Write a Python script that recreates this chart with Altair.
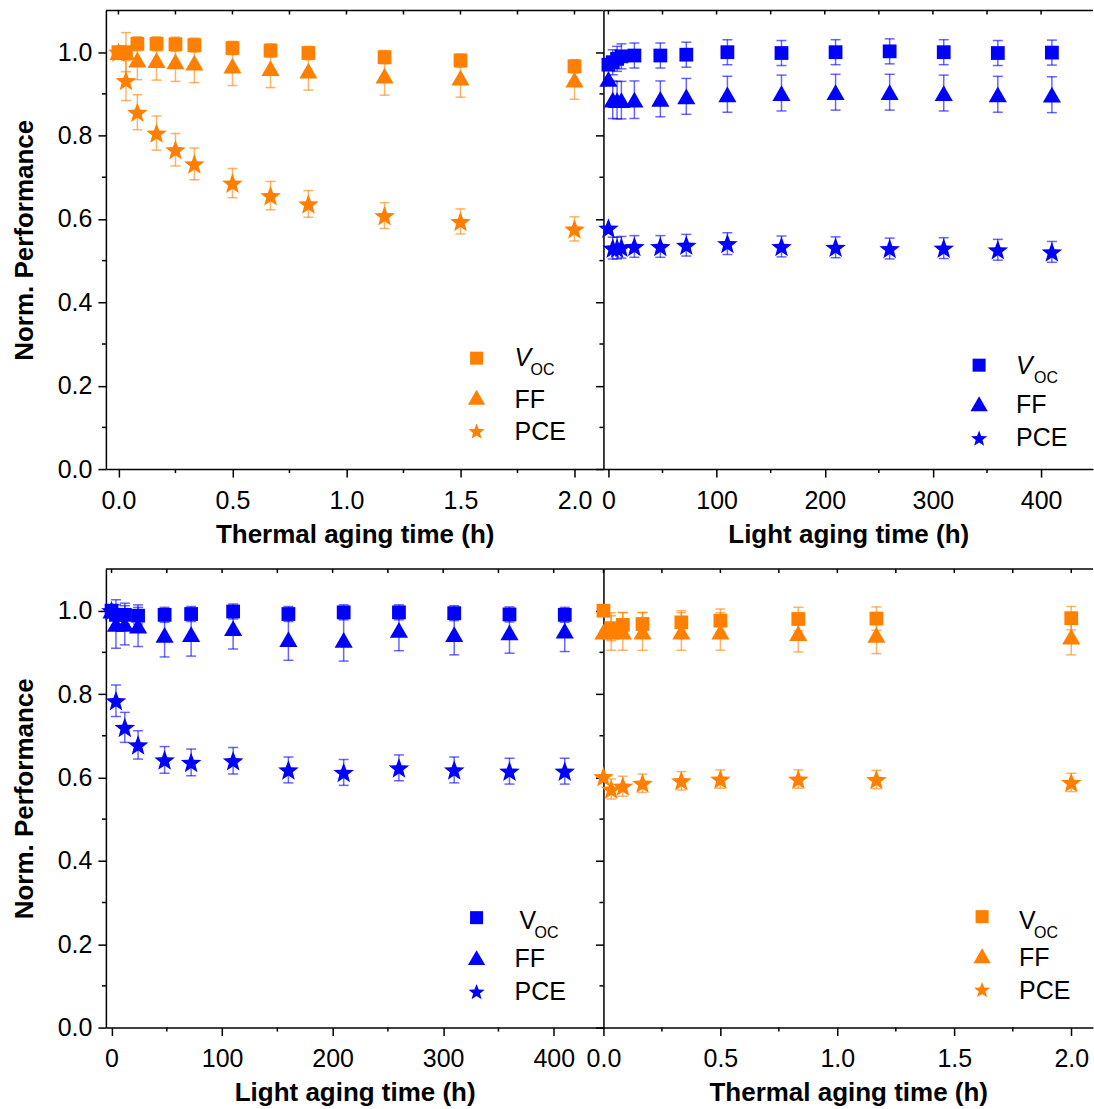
import altair as alt
import pandas as pd

ORANGE = "#FF8000"
BLUE = "#0000FF"
FONT = "Liberation Sans"

# ---------------- data ----------------
# top-left: thermal aging
th1_time = [0, 0.033, 0.083, 0.167, 0.25, 0.333, 0.5, 0.667, 0.833, 1.167, 1.5, 2.0]
th1_voc = [1.0, 1.0, 1.02, 1.02, 1.019, 1.017, 1.01, 1.004, 0.998, 0.988, 0.98, 0.966]
th1_voc_err = [0, 0.012, 0.017, 0.017, 0.017, 0.017, 0.016, 0.016, 0.016, 0.016, 0.016, 0.016]
th1_ff = [1.0, 1.0, 0.982, 0.981, 0.978, 0.975, 0.968, 0.962, 0.956, 0.944, 0.939, 0.934]
th1_ff_err = [0, 0.047, 0.048, 0.048, 0.048, 0.048, 0.048, 0.047, 0.047, 0.047, 0.047, 0.047]
th1_pce = [1.0, 0.932, 0.856, 0.806, 0.766, 0.732, 0.686, 0.656, 0.636, 0.608, 0.594, 0.576]
th1_pce_err = [0, 0.048, 0.042, 0.041, 0.039, 0.038, 0.035, 0.034, 0.032, 0.031, 0.030, 0.029]

# top-right: light aging
li1_time = [0, 4, 8, 12, 24, 48, 72, 110, 160, 210, 260, 310, 360, 410]
li1_voc = [0.970, 0.976, 0.984, 0.990, 0.992, 0.992, 0.994, 1.000, 0.998, 1.000, 1.002, 1.000, 0.998, 0.999]
li1_voc_err = [0, 0.03, 0.03, 0.03, 0.03, 0.03, 0.03, 0.03, 0.03, 0.03, 0.03, 0.03, 0.03, 0.03]
li1_ff = [0.936, 0.886, 0.885, 0.885, 0.886, 0.888, 0.894, 0.899, 0.902, 0.904, 0.904, 0.902, 0.899, 0.898]
li1_ff_err = [0, 0.045, 0.045, 0.045, 0.045, 0.043, 0.043, 0.043, 0.043, 0.043, 0.043, 0.043, 0.043, 0.043]
li1_pce = [0.578, 0.530, 0.530, 0.532, 0.534, 0.534, 0.537, 0.541, 0.534, 0.532, 0.529, 0.530, 0.526, 0.521]
li1_pce_err = [0, 0.026, 0.026, 0.026, 0.026, 0.026, 0.026, 0.026, 0.025, 0.025, 0.025, 0.025, 0.025, 0.025]

# bottom-left: light aging
li2_time = [0, 4, 12, 24, 48, 72, 110, 160, 210, 260, 310, 360, 410]
li2_voc = [1.0, 0.99, 0.99, 0.988, 0.990, 0.992, 0.998, 0.992, 0.996, 0.996, 0.994, 0.991, 0.990]
li2_voc_err = [0, 0.024, 0.022, 0.02, 0.018, 0.018, 0.018, 0.018, 0.018, 0.018, 0.018, 0.018, 0.018]
li2_ff = [1.0, 0.968, 0.968, 0.964, 0.942, 0.944, 0.958, 0.932, 0.930, 0.954, 0.944, 0.948, 0.952]
li2_ff_err = [0, 0.058, 0.05, 0.05, 0.053, 0.053, 0.05, 0.051, 0.051, 0.05, 0.05, 0.05, 0.05]
li2_pce = [1.0, 0.784, 0.720, 0.678, 0.642, 0.636, 0.640, 0.618, 0.612, 0.623, 0.618, 0.615, 0.615]
li2_pce_err = [0, 0.038, 0.036, 0.034, 0.032, 0.032, 0.032, 0.031, 0.031, 0.031, 0.031, 0.031, 0.031]

# bottom-right: thermal aging
th2_time = [0, 0.033, 0.083, 0.167, 0.333, 0.5, 0.833, 1.167, 2.0]
th2_voc = [1.0, 0.958, 0.966, 0.968, 0.972, 0.976, 0.980, 0.981, 0.982]
th2_voc_err = [0, 0.03, 0.03, 0.028, 0.028, 0.028, 0.028, 0.028, 0.028]
th2_ff = [0.950, 0.950, 0.950, 0.950, 0.950, 0.950, 0.946, 0.942, 0.938]
th2_ff_err = [0, 0.045, 0.045, 0.045, 0.045, 0.045, 0.045, 0.045, 0.044]
th2_pce = [0.602, 0.572, 0.579, 0.586, 0.592, 0.596, 0.596, 0.595, 0.588]
th2_pce_err = [0, 0.024, 0.024, 0.022, 0.022, 0.022, 0.022, 0.022, 0.022]

thermal_major = [0, 0.5, 1.0, 1.5, 2.0]
thermal_minor = [0.25, 0.75, 1.25, 1.75]
light_major = [0, 100, 200, 300, 400]
light_minor = [50, 150, 250, 350]
y_major = [0, 0.2, 0.4, 0.6, 0.8, 1.0]
y_minor = [0.1, 0.3, 0.5, 0.7, 0.9]

series_names = ["Voc", "FF", "PCE"]
legend_v = "V"
legend_sub = "OC"
legend_ff = "FF"
legend_pce = "PCE"
y_title = "Norm. Performance"
thermal_title = "Thermal aging time (h)"
light_title = "Light aging time (h)"

# ---------------- styling ----------------
STAR = ("M0,-0.905L0.247,-0.245L0.951,-0.214L0.399,0.225L0.588,0.905L0,0.515"
        "L-0.588,0.905L-0.399,0.225L-0.951,-0.214L-0.247,-0.245Z")
SHAPES = {"Voc": "square", "FF": "triangle-up", "PCE": STAR}
SIZES = {"Voc": 190, "FF": 330, "PCE": 470}
LEG_SIZES = {"Voc": 170, "FF": 300, "PCE": 290}
H = 459
W_L = 498
W_R = 490


def series_df(t, v, e):
    return pd.DataFrame({
        "t": t, "v": v, "e": e,
        "lo": [a - b for a, b in zip(v, e)],
        "hi": [a + b for a, b in zip(v, e)],
    })


def panel(sets, color, width, xdom, xmajor, xminor, xfmt, xtitle, ylabels, leg, v_italic):
    xaxis = alt.Axis(values=xmajor, title=xtitle, format=xfmt, tickSize=8,
                     labelOverlap=False, labelFlush=False, grid=False)
    if ylabels:
        yaxis = alt.Axis(values=y_major, title=y_title, format=".1f", tickSize=8,
                         labelOverlap=False, grid=False)
    else:
        yaxis = alt.Axis(values=y_major, title="", labels=False, tickSize=8, grid=False)
    xs = alt.Scale(domain=xdom, nice=False, zero=False)
    ys = alt.Scale(domain=[0, 1.1], nice=False, zero=False)
    X = alt.X("t:Q", scale=xs, axis=xaxis)

    def Y(f):
        return alt.Y(f + ":Q", scale=ys, axis=yaxis)

    layers = []
    one = pd.DataFrame({"k": [0]})
    # top frame line
    layers.append(alt.Chart(one).mark_rule(color="black", strokeWidth=1.5).encode(
        x=alt.value(0), x2=alt.value(width), y=alt.value(0)))
    # inward top ticks
    layers.append(alt.Chart(pd.DataFrame({"t": xmajor + xminor})).mark_rule(
        color="black", strokeWidth=1.5).encode(x=X, y=alt.value(0), y2=alt.value(4)))
    # minor bottom ticks (outward)
    layers.append(alt.Chart(pd.DataFrame({"t": xminor})).mark_rule(
        color="black", strokeWidth=1.5).encode(x=X, y=alt.value(H), y2=alt.value(H + 4)))
    # minor left ticks (outward)
    layers.append(alt.Chart(pd.DataFrame({"v": y_minor})).mark_rule(
        color="black", strokeWidth=1.5).encode(y=Y("v"), x=alt.value(0), x2=alt.value(-4)))

    for s in series_names:
        df = sets[s]
        eb = df[df["e"] > 0]
        layers.append(alt.Chart(eb).mark_rule(color=color, opacity=0.6, strokeWidth=1.5).encode(
            x=X, y=Y("lo"), y2="hi:Q"))
        for f in ["lo", "hi"]:
            layers.append(alt.Chart(eb).mark_tick(color=color, opacity=0.6, thickness=1.5, size=10,
                                                  orient="horizontal").encode(x=X, y=Y(f)))
    for s in series_names:
        df = sets[s]
        layers.append(alt.Chart(df).mark_point(filled=True, opacity=1, color=color, shape=SHAPES[s],
                                               size=SIZES[s], strokeWidth=0).encode(x=X, y=Y("v")))

    # legend
    for i, s in enumerate(series_names):
        layers.append(alt.Chart(one).mark_point(filled=True, opacity=1, color=color, shape=SHAPES[s],
                                                size=LEG_SIZES[s], strokeWidth=0).encode(
            x=alt.value(leg["sx"]), y=alt.value(leg["sy"][i])))
    txt = dict(font=FONT, color="black", align="left")
    layers.append(alt.Chart(pd.DataFrame({"label": [legend_v]})).mark_text(
        fontSize=25, fontStyle="italic" if v_italic else "normal", baseline="alphabetic", **txt).encode(
        x=alt.value(leg["vx"]), y=alt.value(leg["vy"]), text="label:N"))
    layers.append(alt.Chart(pd.DataFrame({"label": [legend_sub]})).mark_text(
        fontSize=16, baseline="alphabetic", **txt).encode(
        x=alt.value(leg["ox"]), y=alt.value(leg["oy"]), text="label:N"))
    layers.append(alt.Chart(pd.DataFrame({"label": [legend_ff]})).mark_text(
        fontSize=25, baseline="middle", **txt).encode(
        x=alt.value(leg["tx"]), y=alt.value(leg["fy"]), text="label:N"))
    layers.append(alt.Chart(pd.DataFrame({"label": [legend_pce]})).mark_text(
        fontSize=25, baseline="middle", **txt).encode(
        x=alt.value(leg["tx"]), y=alt.value(leg["py"]), text="label:N"))

    return alt.layer(*layers).properties(width=width, height=H)


def make_sets(t, voc, voc_e, ff, ff_e, pce, pce_e):
    return {"Voc": series_df(t, voc, voc_e), "FF": series_df(t, ff, ff_e), "PCE": series_df(t, pce, pce_e)}


p1 = panel(make_sets(th1_time, th1_voc, th1_voc_err, th1_ff, th1_ff_err, th1_pce, th1_pce_err),
           ORANGE, W_L, [-0.055, 2.127], thermal_major, thermal_minor, ".1f", thermal_title, True,
           dict(sx=371, sy=[348, 387, 421], tx=409, vx=409, vy=356, ox=425, oy=365, fy=390, py=421.5), True)
p2 = panel(make_sets(li1_time, li1_voc, li1_voc_err, li1_ff, li1_ff_err, li1_pce, li1_pce_err),
           BLUE, W_R, [-4.6, 448], light_major, light_minor, "d", light_title, False,
           dict(sx=376, sy=[355, 393.5, 428], tx=413, vx=413, vy=364, ox=431, oy=373, fy=395, py=428), True)
p3 = panel(make_sets(li2_time, li2_voc, li2_voc_err, li2_ff, li2_ff_err, li2_pce, li2_pce_err),
           BLUE, W_L, [-5.1, 445], light_major, light_minor, "d", light_title, True,
           dict(sx=371, sy=[349, 389, 423], tx=409, vx=414, vy=360, ox=429, oy=369, fy=390, py=423), False)
p4 = panel(make_sets(th2_time, th2_voc, th2_voc_err, th2_ff, th2_ff_err, th2_pce, th2_pce_err),
           ORANGE, W_R, [0, 2.093], thermal_major, thermal_minor, ".1f", thermal_title, False,
           dict(sx=379, sy=[348, 387, 421], tx=416, vx=416, vy=360, ox=431, oy=369, fy=389, py=422), False)

chart = alt.concat(p1, p2, p3, p4, columns=2, spacing={"row": 100, "column": 0}, bounds="flush").properties(
    padding={"left": 11, "top": 9, "right": 0, "bottom": 0}
).configure_view(strokeWidth=0).configure_axis(
    labelFont=FONT, labelFontSize=25, labelColor="black",
    titleFont=FONT, titleFontSize=26, titleFontWeight="bold", titleColor="black",
    domainColor="black", domainWidth=1.5, tickColor="black", tickWidth=1.5,
).configure_axisX(titlePadding=8, labelPadding=11).configure_axisY(titlePadding=20, labelPadding=6)

chart.save("out.html", embed_options={"renderer": "svg", "actions": False})
